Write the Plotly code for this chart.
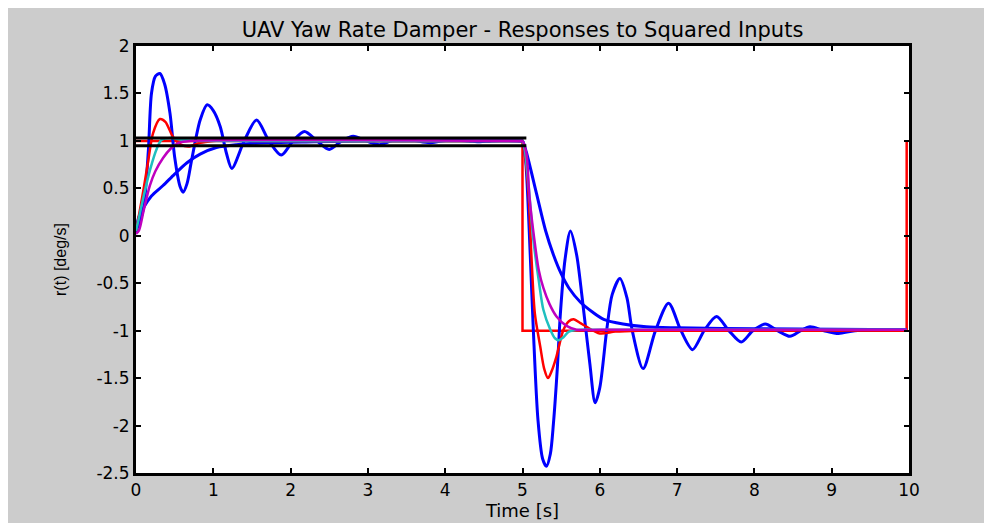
import plotly.graph_objects as go

# ---------------- data ----------------
# reference (squared) input
t_input = [0, 5.0, 5.0, 9.97, 9.97]
r_input = [1, 1, -1, -1, 0.99]

# +/- tolerance band around the first step
t_band = [0, 5.05]
band_hi = [1.03, 1.03]
band_lo = [0.95, 0.95]

# lightly damped response (blue, oscillating)
t_b1 = [0, 0.05, 0.1, 0.16, 0.2, 0.25, 0.31, 0.37, 0.44, 0.5, 0.57, 0.61, 0.66, 0.72,
        0.83, 0.92, 1.0, 1.09, 1.17, 1.24, 1.4, 1.56, 1.72, 1.88, 2.03, 2.18, 2.34,
        2.5, 2.66, 2.81, 2.98, 3.15, 3.3, 3.47, 3.63, 3.8, 3.95, 4.1, 4.3, 4.45, 4.6,
        4.98, 5.0, 5.04, 5.1, 5.14, 5.2, 5.26, 5.31, 5.36, 5.4, 5.45, 5.49, 5.55,
        5.62, 5.7, 5.77, 5.87, 5.94, 6.0, 6.09, 6.16, 6.26, 6.35, 6.42, 6.56, 6.72,
        6.89, 7.05, 7.2, 7.35, 7.51, 7.67, 7.83, 7.98, 8.14, 8.3, 8.46, 8.6, 8.72,
        8.9, 9.09, 9.3, 9.97]
r_b1 = [0.05, 0.15, 0.3, 0.9, 1.5, 1.68, 1.71, 1.6, 1.29, 0.83, 0.52, 0.46, 0.55, 0.8,
        1.22, 1.38, 1.32, 1.15, 0.87, 0.71, 1.0, 1.22, 1.0, 0.85, 1.0, 1.1, 1.0,
        0.91, 1.0, 1.05, 1.0, 0.96, 1.0, 1.025, 1.0, 0.98, 1.0, 1.01, 1.0, 0.99, 1.0,
        1.0, 1.0, 0.8, -0.2, -0.99, -1.94, -2.35, -2.43, -2.3, -1.98, -1.4, -0.82, -0.25,
        0.05, -0.2, -0.64, -1.34, -1.76, -1.6, -0.99, -0.62, -0.45, -0.65, -1.0, -1.4, -1.0,
        -0.71, -1.0, -1.2, -1.0, -0.85, -1.0, -1.12, -1.0, -0.93, -1.0, -1.06, -1.0, -0.96,
        -1.0, -1.03, -1.0, -0.99]

# heavily damped response (blue, slow)
t_b2 = [0, 0.03, 0.1, 0.2, 0.35, 0.5, 0.66, 0.83, 1.04, 1.3, 1.7, 2.3, 3.0, 4.98,
        5.0, 5.05, 5.18, 5.3, 5.4, 5.5, 5.6, 5.75, 5.9, 6.05, 6.3, 6.6, 7.0,
        8.0, 9.97]
r_b2 = [0.03, 0.18, 0.3, 0.42, 0.53, 0.65, 0.77, 0.86, 0.93, 0.96, 0.98, 0.99, 1.0, 1.0,
        1.0, 0.88, 0.45, 0.05, -0.2, -0.4, -0.55, -0.7, -0.8, -0.88, -0.93, -0.96,
        -0.97, -0.98, -0.99]

# red response
t_rd = [0, 0.05, 0.1, 0.16, 0.22, 0.31, 0.38, 0.48, 0.58, 0.68, 0.83, 1.0, 1.2, 1.5,
        4.98, 5.0, 5.04, 5.08, 5.12, 5.16, 5.23, 5.28, 5.33, 5.38, 5.44, 5.53, 5.6,
        5.66, 5.75, 5.83, 6.0, 6.2, 6.5, 9.97]
r_rd = [0.05, 0.27, 0.5, 0.8, 1.08, 1.23, 1.2, 1.04, 0.96, 0.94, 0.98, 1.0, 1.01, 1.0,
        1.0, 1.0, 0.8, 0.41, -0.29, -0.82, -1.17, -1.4, -1.5, -1.42, -1.27, -0.99, -0.9,
        -0.88, -0.92, -0.96, -1.03, -1.01, -1.0, -1.0]

# cyan response
t_cy = [0, 0.03, 0.1, 0.18, 0.27, 0.33, 0.45, 0.6, 0.8, 4.98, 5.0, 5.03, 5.08, 5.14,
        5.21, 5.27, 5.36, 5.42, 5.47, 5.53, 5.6, 5.75, 6.0, 9.97]
r_cy = [0.05, 0.16, 0.42, 0.69, 0.92, 1.01, 1.03, 1.01, 1.0, 1.0, 1.0, 0.9, 0.52, -0.04,
        -0.47, -0.78, -0.99, -1.08, -1.1, -1.07, -1.01, -0.99, -0.99, -0.99]

# magenta response
t_mg = [0, 0.04, 0.1, 0.18, 0.25, 0.35, 0.45, 0.55, 0.7, 4.98, 5.0, 5.05, 5.09, 5.15,
        5.21, 5.27, 5.35, 5.44, 5.57, 5.7, 6.0, 9.97]
r_mg = [0.02, 0.06, 0.27, 0.53, 0.68, 0.82, 0.92, 0.98, 1.0, 1.0, 1.0, 0.87, 0.41, -0.02,
        -0.36, -0.55, -0.72, -0.85, -0.95, -0.99, -0.99, -0.99]

x_ticks = [0, 1, 2, 3, 4, 5, 6, 7, 8, 9, 10]
x_ticktext = ["0", "1", "2", "3", "4", "5", "6", "7", "8", "9", "10"]
y_ticks = [2, 1.5, 1, 0.5, 0, -0.5, -1, -1.5, -2, -2.5]
y_ticktext = ["2", "1.5", "1", "0.5", "0", "-0.5", "-1", "-1.5", "-2", "-2.5"]

# ---------------- figure ----------------
# the page itself adds an 8px body margin, so the figure is placed at (8, 8)
W, H = 992, 523
ML, MT = 128, 38
PW, PH = 773, 427
MR, MB = W - ML - PW, H - MT - PH

fig = go.Figure()
fig.add_trace(go.Scatter(x=t_input, y=r_input, mode="lines",
                         line=dict(color="#FF0000", width=2.5)))
fig.add_trace(go.Scatter(x=t_b1, y=r_b1, mode="lines",
                         line=dict(color="#0000FF", width=3, shape="spline", smoothing=0.8)))
fig.add_trace(go.Scatter(x=t_b2, y=r_b2, mode="lines",
                         line=dict(color="#0000FF", width=3, shape="spline", smoothing=0.8)))
fig.add_trace(go.Scatter(x=t_rd, y=r_rd, mode="lines",
                         line=dict(color="#FF0000", width=2.5, shape="spline", smoothing=0.8)))
fig.add_trace(go.Scatter(x=t_cy, y=r_cy, mode="lines",
                         line=dict(color="#1FBFBF", width=2.5, shape="spline", smoothing=0.8)))
fig.add_trace(go.Scatter(x=t_mg, y=r_mg, mode="lines",
                         line=dict(color="#BF00BF", width=2.5, shape="spline", smoothing=0.8)))
fig.add_trace(go.Scatter(x=t_band, y=band_hi, mode="lines",
                         line=dict(color="black", width=3)))
fig.add_trace(go.Scatter(x=t_band, y=band_lo, mode="lines",
                         line=dict(color="black", width=3)))

axis_common = dict(showgrid=False, zeroline=False, showline=True, linecolor="black",
                   linewidth=3, mirror="ticks", ticks="inside", ticklen=5, tickwidth=2,
                   tickcolor="black",
                   tickfont=dict(family="DejaVu Sans", size=17, color="black"))

fig.update_xaxes(range=[0, 10], tickvals=x_ticks, ticktext=x_ticktext,
                 title=dict(text="Time [s]", standoff=3,
                            font=dict(family="DejaVu Sans", size=18, color="black")),
                 **axis_common)
fig.update_yaxes(range=[-2.5, 2], tickvals=y_ticks, ticktext=y_ticktext,
                 title=dict(text="r(t) [deg/s]", standoff=26,
                            font=dict(family="Liberation Sans", size=16, color="black")),
                 **axis_common)

fig.update_layout(
    width=W, height=H,
    margin=dict(l=ML, r=MR, t=MT, b=MB, autoexpand=False),
    paper_bgcolor="#CCCCCC", plot_bgcolor="white",
    showlegend=False,
    title=dict(text="UAV Yaw Rate Damper - Responses to Squared Inputs",
               x=0.5, xref="paper", xanchor="center",
               y=1 - 22 / H, yref="container", yanchor="middle",
               font=dict(family="DejaVu Sans", size=21, color="black")),
)

fig.write_html("out.html")
